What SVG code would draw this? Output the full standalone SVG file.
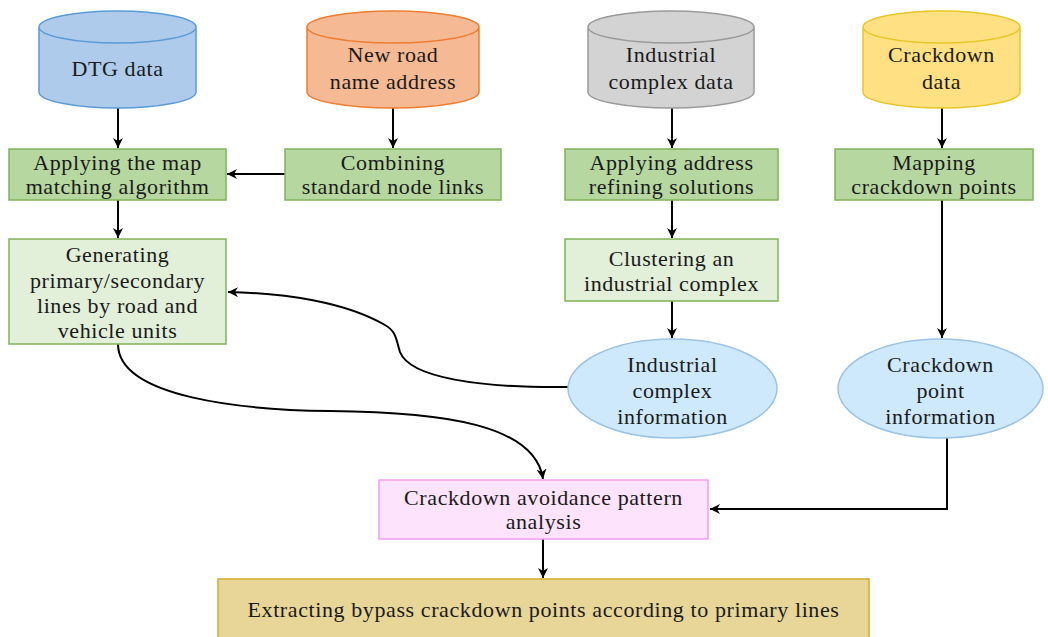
<svg xmlns="http://www.w3.org/2000/svg" width="1048" height="637" viewBox="0 0 1048 637">
<defs>
<marker id="ah" markerWidth="12" markerHeight="12" refX="10" refY="5" orient="auto" markerUnits="userSpaceOnUse">
<path d="M0,0 L10,5 L0,10 L3,5 Z" fill="#000"/>
</marker>
<style>
text{font-family:"Liberation Serif","Times New Roman",serif;font-size:22px;letter-spacing:0.6px;fill:#1a1a1a;text-anchor:middle}
.c{fill:none;stroke:#000;stroke-width:2;marker-end:url(#ah)}
.g1{fill:#b6d7a0;stroke:#7fb35a;stroke-width:1.5}
.g2{fill:#e2efd9;stroke:#7fb35a;stroke-width:1.5}
.el{fill:#cde9fb;stroke:#9cc3e5;stroke-width:1.5}
</style>
</defs>
<rect width="1048" height="637" fill="#fff"/>
<g id="connectors">
<path class="c" d="M118,108 L118,148"/>
<path class="c" d="M393,108 L393,148"/>
<path class="c" d="M672,108 L672,148"/>
<path class="c" d="M942,108 L942,148"/>
<path class="c" d="M285,174 L227,174"/>
<path class="c" d="M118,200 L118,238"/>
<path class="c" d="M672,200 L672,238"/>
<path class="c" d="M672,301 L672,338"/>
<path class="c" d="M942,200 L942,338"/>
<path class="c" d="M568,387 C480,388 410,378 400,352 C396,340 397,332 385,325 C345,302 285,293 228,292"/>
<path class="c" d="M118,344 C118,398 245,410 330,411 C445,412 535,425 543,479"/>
<path class="c" d="M947,437 L947,509 L710,509"/>
<path class="c" d="M543,539 L543,578"/>
</g>
<g id="dtg">
<path d="M39,27 L39,92 A78.5,16 0 0 0 196,92 L196,27 A78.5,16 0 0 0 39,27 Z M39,27 A78.5,16 0 0 0 196,27" fill="#aecbeb" stroke="#5b9bd5" stroke-width="1.5"/>
<text x="117.5" y="76">DTG data</text>
</g>
<g id="newroad">
<path d="M307,27 L307,92 A86,16 0 0 0 479,92 L479,27 A86,16 0 0 0 307,27 Z M307,27 A86,16 0 0 0 479,27" fill="#f5b994" stroke="#ed7d31" stroke-width="1.5"/>
<text x="393" y="62">New road</text>
<text x="393" y="89">name address</text>
</g>
<g id="industrial">
<path d="M588,27 L588,92 A83,16 0 0 0 754,92 L754,27 A83,16 0 0 0 588,27 Z M588,27 A83,16 0 0 0 754,27" fill="#d3d3d3" stroke="#9a9a9a" stroke-width="1.5"/>
<text x="671" y="62">Industrial</text>
<text x="671" y="89">complex data</text>
</g>
<g id="crackdown">
<path d="M863,27 L863,92 A78.5,16 0 0 0 1020,92 L1020,27 A78.5,16 0 0 0 863,27 Z M863,27 A78.5,16 0 0 0 1020,27" fill="#ffe082" stroke="#e8c62a" stroke-width="1.5"/>
<text x="941.5" y="62">Crackdown</text>
<text x="941.5" y="89">data</text>
</g>
<g id="mapmatch">
<rect class="g1" x="9" y="149" width="217" height="51"/>
<text x="117.5" y="170">Applying the map</text>
<text x="117.5" y="194">matching algorithm</text>
</g>
<g id="combining">
<rect class="g1" x="285" y="149" width="216" height="51"/>
<text x="393" y="170">Combining</text>
<text x="393" y="194">standard node links</text>
</g>
<g id="address">
<rect class="g1" x="565" y="149" width="213" height="51"/>
<text x="671.5" y="170">Applying address</text>
<text x="671.5" y="194">refining solutions</text>
</g>
<g id="mapping">
<rect class="g1" x="835" y="149" width="198" height="51"/>
<text x="934" y="170">Mapping</text>
<text x="934" y="194">crackdown points</text>
</g>
<g id="generating">
<rect class="g2" x="9" y="239" width="217" height="105"/>
<text x="117.5" y="262">Generating</text>
<text x="117.5" y="288">primary/secondary</text>
<text x="117.5" y="313">lines by road and</text>
<text x="117.5" y="338">vehicle units</text>
</g>
<g id="clustering">
<rect class="g2" x="565" y="239" width="213" height="62"/>
<text x="671.5" y="266">Clustering an</text>
<text x="671.5" y="291">industrial complex</text>
</g>
<g id="indinfo">
<ellipse class="el" cx="672.5" cy="388.5" rx="104.5" ry="49.5"/>
<text x="672.5" y="372">Industrial</text>
<text x="672.5" y="398">complex</text>
<text x="672.5" y="424">information</text>
</g>
<g id="crackinfo">
<ellipse class="el" cx="940.5" cy="388.5" rx="102.5" ry="49.5"/>
<text x="940.5" y="372">Crackdown</text>
<text x="940.5" y="398">point</text>
<text x="940.5" y="424">information</text>
</g>
<g id="avoidance">
<rect x="379" y="480" width="329" height="59" fill="#fde3fb" stroke="#ef9fef" stroke-width="1.5"/>
<text x="543.5" y="505">Crackdown avoidance pattern</text>
<text x="543.5" y="529">analysis</text>
</g>
<g id="extracting">
<rect x="218" y="579" width="651" height="70" fill="#e8d598" stroke="#d4aa2a" stroke-width="1.5"/>
<text x="543.5" y="617">Extracting bypass crackdown points according to primary lines</text>
</g>
</svg>
